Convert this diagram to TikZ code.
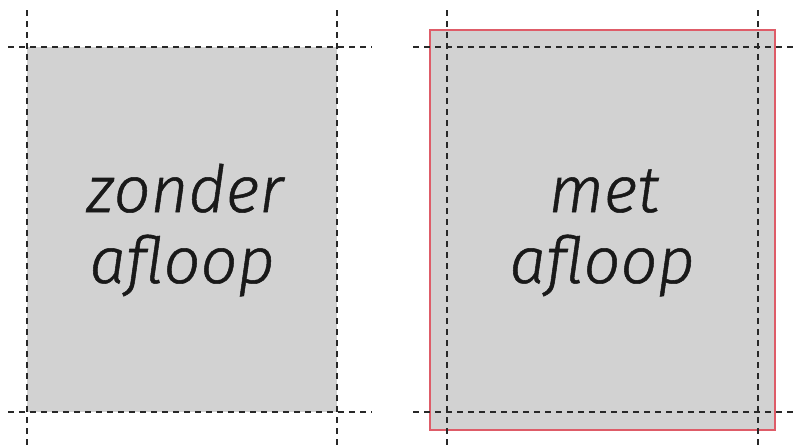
\documentclass[tikz,border=0pt]{standalone}
\usepackage{fontspec}
\setmainfont{Fira Sans Light}[ItalicFont={Fira Sans Light Italic},ItalicFeatures={FakeBold=0.8}]
\definecolor{pagegray}{RGB}{210,210,210}
\definecolor{bleedred}{RGB}{222,92,104}
\definecolor{cropline}{RGB}{40,40,40}
\begin{document}
\begin{tikzpicture}[x=1pt,y=-1pt,
  crop/.style={draw=cropline,line width=2pt,dash pattern=on 6pt off 5pt},
  label/.style={font=\fontsize{65}{65}\selectfont\itshape,text=black!90,inner sep=0pt,anchor=base}]
\useasboundingbox (0,0) rectangle (797,447);
% left panel
\fill[pagegray] (27,47) rectangle (337,412);
% right panel with bleed
\draw[fill=pagegray,draw=bleedred,line width=2.5pt] (430,30) rectangle (775,430);
% crop lines left
\draw[crop] (8,47) -- (372,47);
\draw[crop] (8,412) -- (372,412);
\draw[crop] (27,10) -- (27,447);
\draw[crop] (337,10) -- (337,447);
% crop lines right
\draw[crop] (413,47) -- (797,47);
\draw[crop] (413,412) -- (797,412);
\draw[crop] (447,10) -- (447,447);
\draw[crop] (758,10) -- (758,447);
% texts
\node[label] (l1) at (185,212) {zonder};
\node[label] (l2) at (182,283) {afloop};
\node[label] (r1) at (604,212) {met};
\node[label] (r2) at (602,283) {afloop};
\end{tikzpicture}
\end{document}
